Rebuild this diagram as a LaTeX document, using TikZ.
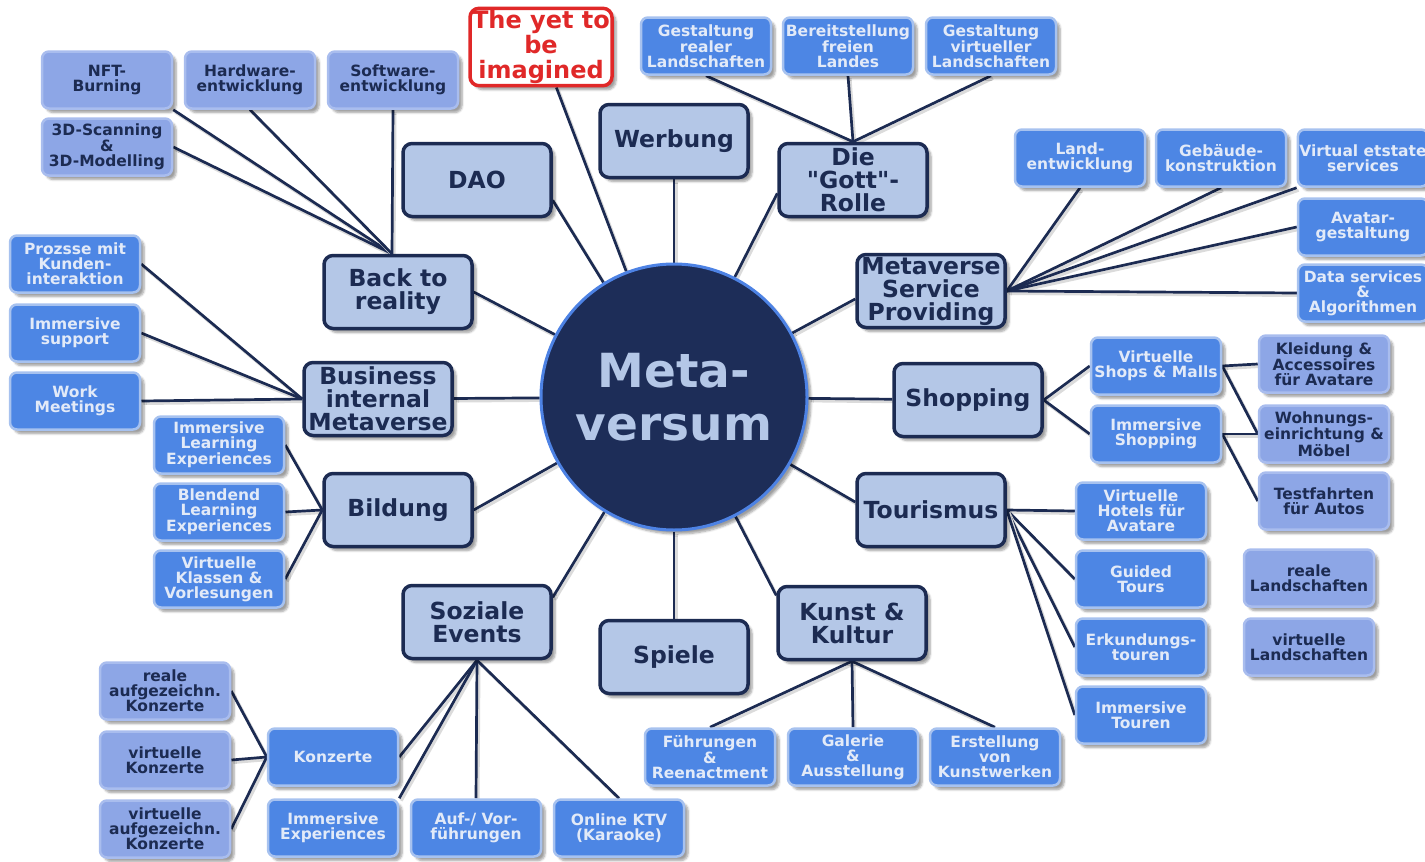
\documentclass[tikz,border=0pt]{standalone}
\usepackage{fontspec}
\setmainfont{DejaVu Sans}[Ligatures=TeXOff]
\usetikzlibrary{shadows.blur,backgrounds}

\definecolor{navy}{HTML}{1C2B52}
\definecolor{mainfill}{HTML}{B4C7E7}
\definecolor{brightfill}{HTML}{4D86E4}
\definecolor{brightborder}{HTML}{A7C2EF}
\definecolor{brighttext}{HTML}{E2EAF8}
\definecolor{lavfill}{HTML}{8DA6E6}
\definecolor{lavborder}{HTML}{A9BDEE}
\definecolor{corefill}{HTML}{1D2D58}
\definecolor{coreborder}{HTML}{4D82E4}
\definecolor{alertred}{HTML}{E02828}

\tikzset{
  softshadow/.style={blur shadow={shadow xshift=4pt, shadow yshift=-4pt,
      shadow opacity=38, shadow blur steps=6}},
  mainbox/.style={draw=navy, line width=3.5pt, fill=mainfill, rounded corners=9pt,
      minimum width=148pt, minimum height=73pt, text=navy, align=center,
      inner sep=2pt, font=\fontsize{23.5}{23}\selectfont\bfseries, softshadow},
  redbox/.style={mainbox, draw=alertred, fill=white, text=alertred,
      minimum width=142pt, minimum height=75pt,
      font=\fontsize{24}{25}\selectfont\bfseries},
  subbox/.style={draw=brightborder, line width=2.5pt, fill=brightfill,
      rounded corners=7pt, minimum width=130pt, minimum height=57pt,
      text=brighttext, align=center, inner sep=1.5pt,
      font=\fontsize{15.5}{14.8}\selectfont\bfseries, softshadow},
  leafbox/.style={subbox, draw=lavborder, fill=lavfill, text=navy},
  core/.style={circle, draw=coreborder, line width=3pt, fill=corefill,
      minimum size=266pt, text=mainfill, align=center,
      font=\fontsize{47}{53}\selectfont\bfseries, softshadow},
  link/.style={draw=navy, line width=2.7pt,
      preaction={draw=black!14, line width=3pt,
        transform canvas={shift={(2pt,-2.5pt)}}}}
}

\begin{document}
\begin{tikzpicture}[x=1pt,y=-1pt]
\useasboundingbox (0,0) rectangle (1425,862);

% centre
\node[core] (c) at (674,397) {Meta-\\versum};

% first ring of topics
\node[mainbox] (werb)   at (674,141) {Werbung};
\node[mainbox] (dao)    at (477,180) {DAO};
\node[mainbox] (gott)   at (853,180) {Die\\"Gott"-\\Rolle};
\node[mainbox] (back)   at (398,292) {Back to\\reality};
\node[mainbox] (msp)    at (931,291) {Metaverse\\Service\\Providing};
\node[mainbox] (biz)    at (378,399) {Business\\internal\\Metaverse};
\node[mainbox] (shop)   at (968,400) {Shopping};
\node[mainbox] (bild)   at (398,510) {Bildung};
\node[mainbox] (tour)   at (931,510) {Tourismus};
\node[mainbox] (soz)    at (477,622) {Soziale\\Events};
\node[mainbox] (spiele) at (674,657) {Spiele};
\node[mainbox] (kunst)  at (852,623) {Kunst \&\\Kultur};
\node[redbox]  (red)    at (541,47)  {The yet to\\be\\imagined};

% second ring
\node[subbox] (greal)  at (706,46)  {Gestaltung\\realer\\Landschaften};
\node[subbox] (bereit) at (848,46)  {Bereitstellung\\freien\\Landes};
\node[subbox] (gvirt)  at (991,46)  {Gestaltung\\virtueller\\Landschaften};
\node[subbox] (land)   at (1080,158) {Land-\\entwicklung};
\node[subbox] (geb)    at (1221,158) {Gebäude-\\konstruktion};
\node[subbox] (vre)    at (1363,158) {Virtual etstate\\services};
\node[subbox] (ava)    at (1363,227) {Avatar-\\gestaltung};
\node[subbox] (data)   at (1363,293) {Data services\\\&\\Algorithmen};
\node[subbox] (vshop)  at (1156,366) {Virtuelle\\Shops \& Malls};
\node[subbox] (ishop)  at (1156,434) {Immersive\\Shopping};
\node[subbox] (hotel)  at (1141,511) {Virtuelle\\Hotels für\\Avatare};
\node[subbox] (guided) at (1141,579) {Guided\\Tours};
\node[subbox] (erk)    at (1141,647) {Erkundungs-\\touren};
\node[subbox] (itour)  at (1141,715) {Immersive\\Touren};
\node[subbox] (fuehr)  at (710,757)  {Führungen\\\&\\Reenactment};
\node[subbox] (gal)    at (853,757)  {Galerie\\\&\\Ausstellung};
\node[subbox] (erst)   at (995,757)  {Erstellung\\von\\Kunstwerken};
\node[subbox] (konz)   at (333,757)  {Konzerte};
\node[subbox] (iexp)   at (333,828)  {Immersive\\Experiences};
\node[subbox] (auf)    at (476,828)  {Auf-/ Vor-\\führungen};
\node[subbox] (ktv)    at (619,828)  {Online KTV\\(Karaoke)};
\node[subbox] (ile)    at (219,445)  {Immersive\\Learning\\Experiences};
\node[subbox] (ble)    at (219,512)  {Blendend\\Learning\\Experiences};
\node[subbox] (vkl)    at (219,579)  {Virtuelle\\Klassen \&\\Vorlesungen};
\node[subbox] (proz)   at (75,264)   {Prozsse mit\\Kunden-\\interaktion};
\node[subbox] (isup)   at (75,333)   {Immersive\\support};
\node[subbox] (work)   at (75,401)   {Work\\Meetings};

% third ring
\node[leafbox] (nft)   at (107,80)   {NFT-\\Burning};
\node[leafbox] (hw)    at (250,80)   {Hardware-\\entwicklung};
\node[leafbox] (sw)    at (393,80)   {Software-\\entwicklung};
\node[leafbox] (scan)  at (107,147)  {3D-Scanning\\\&\\3D-Modelling};
\node[leafbox] (kleid) at (1324,364) {Kleidung \&\\Accessoires\\für Avatare};
\node[leafbox] (wohn)  at (1324,434) {Wohnungs-\\einrichtung \&\\Möbel};
\node[leafbox] (test)  at (1324,501) {Testfahrten\\für Autos};
\node[leafbox] (realL) at (1309,578) {reale\\Landschaften};
\node[leafbox] (virtL) at (1309,647) {virtuelle\\Landschaften};
\node[leafbox] (rak)   at (165,691)  {reale\\aufgezeichn.\\Konzerte};
\node[leafbox] (vk)    at (165,760)  {virtuelle\\Konzerte};
\node[leafbox] (vak)   at (165,829)  {virtuelle\\aufgezeichn.\\Konzerte};

\coordinate (backtop) at ([xshift=-6pt]back.north);

\begin{scope}[on background layer]
  % spokes from the centre
  \path[link] (c) -- (werb);
  \path[link] (c) -- (spiele);
  \path[link] (c) -- (biz);
  \path[link] (c) -- (shop);
  \path[link] (c) -- (red);
  \path[link] (c) -- (dao.-15);
  \path[link] (c) -- (gott.190);
  \path[link] (c) -- (back.east);
  \path[link] (c) -- (msp.186);
  \path[link] (c) -- (bild.east);
  \path[link] (c) -- (tour.174);
  \path[link] (c) -- (soz.18);
  \path[link] (c) -- (kunst.160);
  % Back to reality
  \path[link] (nft.south east) -- (backtop);
  \path[link] (scan.east) -- (backtop);
  \path[link] (hw.south) -- (backtop);
  \path[link] (sw.south) -- (backtop);
  % Business internal Metaverse
  \foreach \t in {proz,isup,work} \path[link] (\t.east) -- (biz.west);
  % Bildung
  \foreach \t in {ile,ble,vkl} \path[link] (\t.east) -- (bild.west);
  % Soziale Events
  \path[link] (soz.south) -- (konz.east);
  \path[link] (soz.south) -- (iexp.north east);
  \path[link] (soz.south) -- (auf.north);
  \path[link] (soz.south) -- (ktv.north);
  \foreach \t in {rak,vk,vak} \path[link] (\t.east) -- (konz.west);
  % Kunst & Kultur
  \foreach \t in {fuehr,gal,erst} \path[link] (kunst.south) -- (\t.north);
  % Tourismus
  \foreach \t in {hotel,guided,erk,itour} \path[link] (tour.east) -- (\t.west);
  % Shopping
  \path[link] (shop.east) -- (vshop.west);
  \path[link] (shop.east) -- (ishop.west);
  \path[link] (vshop.east) -- (kleid.west);
  \path[link] (vshop.east) -- (wohn.west);
  \path[link] (ishop.east) -- (wohn.west);
  \path[link] (ishop.east) -- (test.west);
  % Metaverse Service Providing
  \path[link] (msp.east) -- (land.south);
  \path[link] (msp.east) -- (geb.south);
  \path[link] (msp.east) -- (vre.south west);
  \path[link] (msp.east) -- (ava.west);
  \path[link] (msp.east) -- (data.west);
  % Die "Gott"-Rolle
  \foreach \t in {greal,bereit,gvirt} \path[link] (gott.north) -- (\t.south);
\end{scope}
\end{tikzpicture}
\end{document}
